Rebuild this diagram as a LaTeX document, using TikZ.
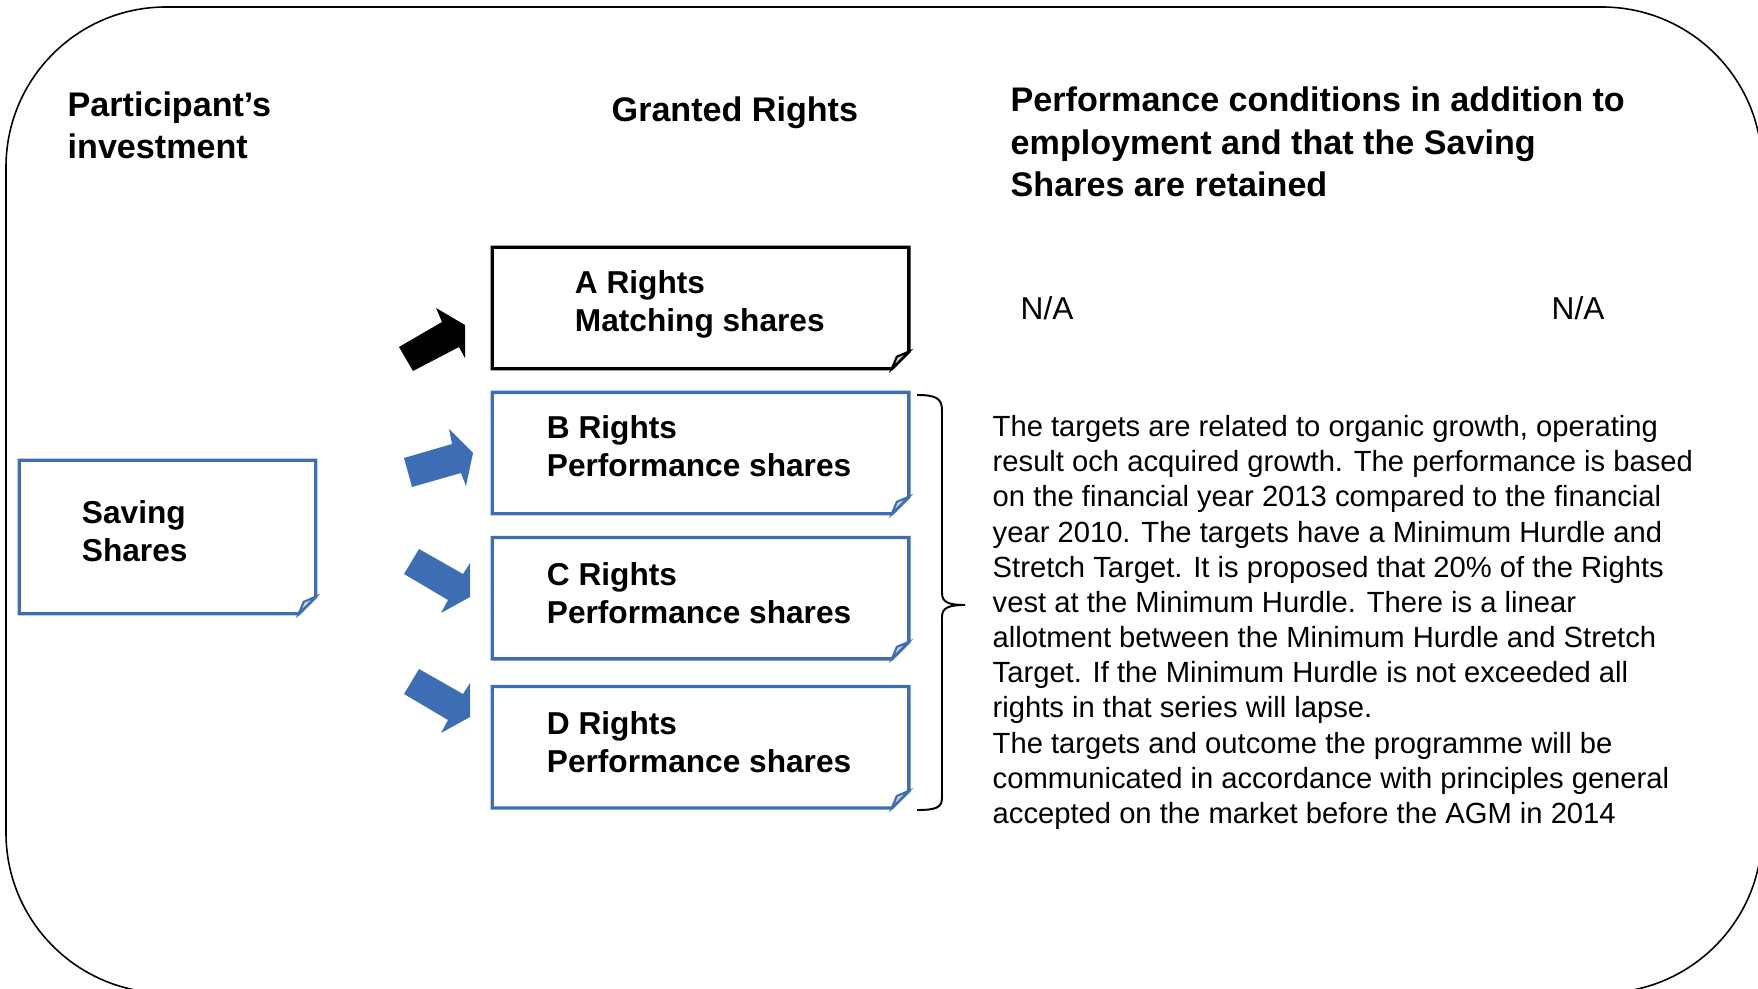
\documentclass[tikz,border=0pt]{standalone}
\usepackage{fontspec}
\setmainfont{Liberation Sans}
\usetikzlibrary{positioning}

\definecolor{rightsblue}{RGB}{61,110,180}

% box outline with a folded bottom-right corner: #1 node, #2 colour
\newcommand{\dogear}[2]{%
    \draw[#2, line width=0.95pt] (#1.north west) -- (#1.north east) -- ([yshift=0.17cm]#1.south east)
        -- ([xshift=-0.17cm]#1.south east) -- (#1.south west) -- cycle;
    \draw[#2, line width=0.6pt, fill=gray!35] ([xshift=-0.17cm]#1.south east) -- ([xshift=-0.12cm,yshift=0.12cm]#1.south east)
        -- ([yshift=0.17cm]#1.south east) -- cycle;
}

\begin{document}
\begin{tikzpicture}[x=0.01cm, y=-0.01cm, node distance=1.45cm]
    % Styles
    \tikzstyle{heading} = [anchor=west, align=left, inner sep=0pt, font=\fontsize{9.7}{12}\selectfont\bfseries]
    \tikzstyle{rightbox} = [rectangle, minimum width=4.15cm, minimum height=1.2cm, inner sep=0pt]
    \tikzstyle{boxtext} = [anchor=west, align=left, inner sep=0pt, font=\fontsize{9}{10.8}\selectfont\bfseries]
    \tikzstyle{bodytext} = [anchor=west, align=left, inner sep=0pt, font=\fontsize{8.3}{10}\selectfont]
    \tikzstyle{blockarrow} = [fill=rightsblue]

    \useasboundingbox (0,0) rectangle (1758,989);

    % Frame
    \draw[line width=0.45pt, rounded corners=1.6cm] (6,7) rectangle (1762,993);

    % Column headings
    \node (invest) [heading] at (67,125) {Participant's\\investment};
    \node (granted) [heading] at (611,113) {Granted Rights};
    \node (perf) [heading] at (1010,142) {Performance conditions in addition to\\employment and that the Saving\\Shares are retained};

    % Boxes
    \node (saving) [rightbox, minimum width=2.95cm, minimum height=1.52cm] at (167.5,537) {};
    \node (arights) [rightbox] at (700.5,308) {};
    \node (brights) [rightbox, below of=arights] {};
    \node (crights) [rightbox, below of=brights] {};
    \node (drights) [rightbox, below of=crights, yshift=-0.04cm] {};

    \dogear{saving}{rightsblue}
    \dogear{arights}{black}
    \dogear{brights}{rightsblue}
    \dogear{crights}{rightsblue}
    \dogear{drights}{rightsblue}

    \node (savingtext) [boxtext, right=0.62cm of saving.west, yshift=0.055cm] {Saving\\Shares};
    \node (atext) [boxtext, right=0.82cm of arights.west, yshift=0.04cm] {A Rights\\Matching shares};
    \node (btext) [boxtext, right=0.54cm of brights.west, yshift=0.07cm] {B Rights\\Performance shares};
    \node (ctext) [boxtext, right=0.54cm of crights.west, yshift=0.05cm] {C Rights\\Performance shares};
    \node (dtext) [boxtext, right=0.54cm of drights.west, yshift=0.05cm] {D Rights\\Performance shares};

    % Block arrows
    \fill[black] (399,347) -- (442,322) -- (436,308) -- (465,325) -- (465,358) -- (459,347) -- (413,371) -- cycle;
    \fill[blockarrow] (404,458) -- (452,444) -- (449,429) -- (473,453) -- (466,486) -- (461,473) -- (412,487) -- cycle;
    \fill[blockarrow] (419,549) -- (463,574) -- (470,563) -- (470,597) -- (441,613) -- (448,600) -- (404,574) -- cycle;
    \fill[blockarrow] (419,669) -- (463,694) -- (470,683) -- (470,717) -- (441,733) -- (448,720) -- (404,694) -- cycle;

    % Conditions
    \node (naleft) [bodytext, font=\fontsize{9}{10.8}\selectfont] at (1020,308) {N/A};
    \node (naright) [bodytext, font=\fontsize{9}{10.8}\selectfont] at (1551,308) {N/A};

    % Brace over B, C and D
    \coordinate (bracetop) at (917,395);
    \coordinate (bracetip) at (965,605);
    \coordinate (bracebot) at (917,810);
    \draw[line width=0.55pt] (bracetop) .. controls (935,395) and (942,398) .. (942,410) -- (942,593)
        .. controls (942,602) and (948,605) .. (bracetip)
        .. controls (948,605) and (942,608) .. (942,617) -- (942,798)
        .. controls (942,808) and (935,810) .. (bracebot);

    \node (targets) [bodytext] at (992,622.5) {The targets are related to organic growth, operating\\
        result och acquired growth. The performance is based\\
        on the financial year 2013 compared to the financial\\
        year 2010. The targets have a Minimum Hurdle and\\
        Stretch Target. It is proposed that 20\% of the Rights\\
        vest at the Minimum Hurdle. There is a linear\\
        allotment between the Minimum Hurdle and Stretch\\
        Target. If the Minimum Hurdle is not exceeded all\\
        rights in that series will lapse.\\
        The targets and outcome the programme will be\\
        communicated in accordance with principles general\\
        accepted on the market before the AGM in 2014};
\end{tikzpicture}
\end{document}
